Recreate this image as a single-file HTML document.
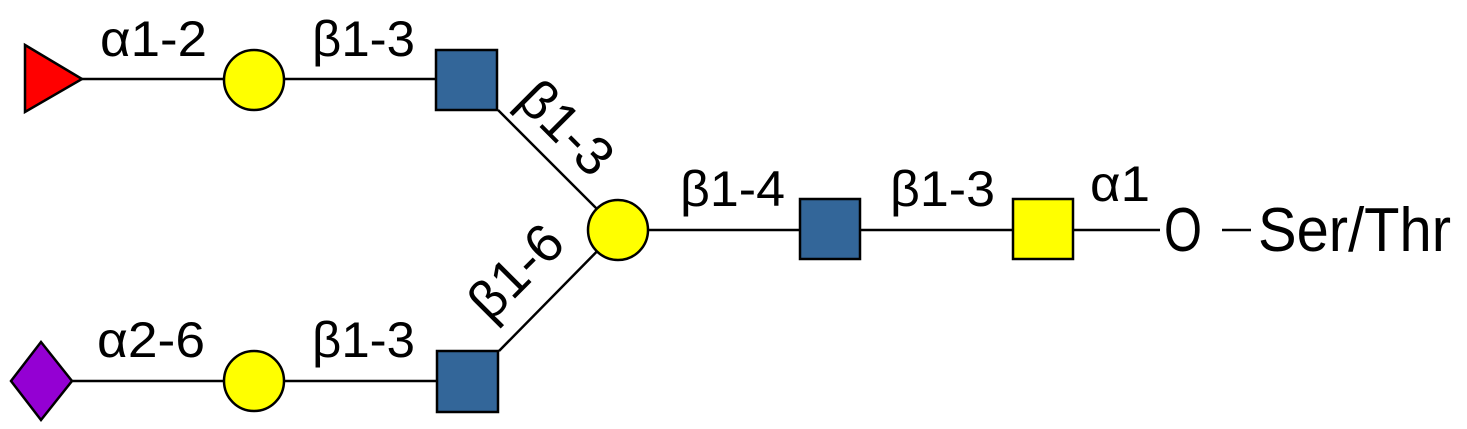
<!DOCTYPE html>
<html><head><meta charset="utf-8"><style>html,body{margin:0;padding:0;background:#fff}svg{display:block}</style></head>
<body>
<svg width="1467" height="429" viewBox="0 0 1467 429" xmlns="http://www.w3.org/2000/svg" font-family="Liberation Sans, Arial, sans-serif" font-size="50" fill="#000">
<g stroke="#000" stroke-width="2.5">
<line x1="82" y1="79" x2="254" y2="79"/>
<line x1="254" y1="79" x2="466" y2="79"/>
<line x1="498" y1="110" x2="618" y2="230"/>
<line x1="499" y1="351" x2="618" y2="230"/>
<line x1="41" y1="381" x2="254" y2="381"/>
<line x1="254" y1="381" x2="467" y2="381"/>
<line x1="618" y1="230" x2="1160" y2="230"/>
<line x1="1222" y1="230" x2="1251" y2="230"/>
</g>
<g stroke="#000" stroke-width="2.5">
<polygon points="25,45 25,112 82,79" fill="#ff0000"/>
<circle cx="254" cy="80" r="30" fill="#ffff00"/>
<rect x="436" y="50" width="61" height="60" fill="#336699"/>
<circle cx="618" cy="230" r="30" fill="#ffff00"/>
<polygon points="41,342 72,381 41,420 11,381" fill="#9400d3"/>
<circle cx="254" cy="381" r="30" fill="#ffff00"/>
<rect x="437" y="351" width="61" height="61" fill="#336699"/>
<rect x="800" y="199" width="60" height="60" fill="#336699"/>
<rect x="1013" y="199" width="60" height="60" fill="#ffff00"/>
</g>
<text x="100" y="56" textLength="107" lengthAdjust="spacingAndGlyphs">α1-2</text>
<text x="312" y="56" textLength="103" lengthAdjust="spacingAndGlyphs">β1-3</text>
<text x="97" y="357" textLength="108" lengthAdjust="spacingAndGlyphs">α2-6</text>
<text x="312" y="357" textLength="103" lengthAdjust="spacingAndGlyphs">β1-3</text>
<text x="680" y="206" textLength="105" lengthAdjust="spacingAndGlyphs">β1-4</text>
<text x="890" y="206" textLength="105" lengthAdjust="spacingAndGlyphs">β1-3</text>
<text x="1090" y="201" textLength="60" lengthAdjust="spacingAndGlyphs">α1</text>
<text transform="translate(566,128) rotate(45)" text-anchor="middle" y="18" font-size="54">β1-3</text>
<text transform="translate(516,272) rotate(-45)" text-anchor="middle" y="18" font-size="54">β1-6</text>
<text x="1164" y="251" font-size="62" textLength="38" lengthAdjust="spacingAndGlyphs">O</text>
<text x="1258" y="251" font-size="62" textLength="193" lengthAdjust="spacingAndGlyphs">Ser/Thr</text>
</svg>
</body></html>
